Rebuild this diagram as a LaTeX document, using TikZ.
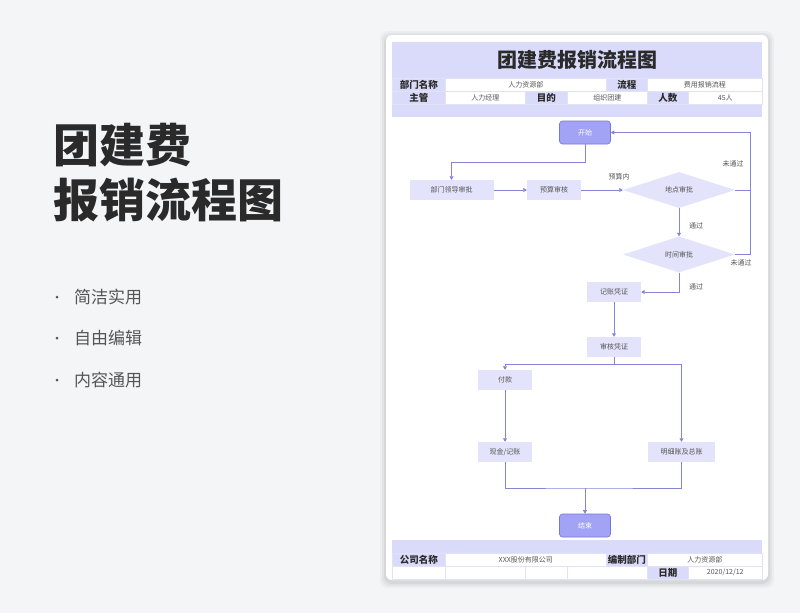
\documentclass[tikz,border=0pt]{standalone}
\usepackage{fontspec}
\setmainfont{Noto Sans CJK SC}
\usetikzlibrary{arrows.meta,shapes.geometric}
\definecolor{bgc}{HTML}{F4F5F7}
\definecolor{headc}{HTML}{DADAFA}
\definecolor{gridc}{HTML}{E2E2F6}
\definecolor{procc}{HTML}{E3E3FB}
\definecolor{termc}{HTML}{A3A3F6}
\definecolor{termd}{HTML}{7676DC}
\definecolor{linec}{HTML}{8585D8}
\definecolor{txtc}{HTML}{555555}
\definecolor{darkc}{HTML}{2A2A2A}
\tikzset{
  tcell/.style={draw=gridc, line width=0.5pt, fill=white, inner sep=0pt, anchor=north west, minimum height=13pt, text=txtc, font=\fontsize{7}{8}\selectfont},
  tlab/.style={tcell, fill=headc, text=darkc, font=\bfseries\fontsize{9.5}{10}\selectfont},
  proc/.style={fill=procc, draw=none, minimum height=20pt, inner sep=0pt, text=txtc, font=\fontsize{7}{8}\selectfont},
  term/.style={fill=termc, draw=termd, line width=0.6pt, rounded corners=3pt, minimum width=51pt, minimum height=23pt, inner sep=0pt, text=white, font=\fontsize{7}{8}\selectfont},
  dec/.style={diamond, aspect=3, fill=procc, draw=none, minimum width=112pt, minimum height=36pt, inner sep=0pt, text=txtc, font=\fontsize{7}{8}\selectfont},
  conn/.style={draw=linec, line width=0.7pt},
  flow/.style={conn, -{Triangle[width=4pt,length=3.5pt]}},
  elab/.style={text=txtc, font=\fontsize{7}{8}\selectfont, inner sep=0pt},
}
\begin{document}
\begin{tikzpicture}[x=1pt,y=-1pt]
\useasboundingbox (0,0) rectangle (800,613);
\fill[bgc] (0,0) rectangle (800,613);
% card shadow
\foreach \d/\o in {6/0.03,4/0.04,2/0.05}{
  \fill[black,opacity=\o,rounded corners=8pt] (386-\d,35-\d+2) rectangle (768+\d,580+\d+2);
}
\fill[white,rounded corners=6pt] (386,35) rectangle (768,580);

% left text
\node[anchor=west, inner sep=0pt, text=darkc, font=\bfseries\fontsize{46}{50}\selectfont] (t1) at (53,145) {团建费};
\node[anchor=west, inner sep=0pt, text=darkc, font=\bfseries\fontsize{46}{50}\selectfont] (t2) at (53,200) {报销流程图};
\foreach \yy/\tt [count=\i] in {297/简洁实用,338/自由编辑,380/内容通用}{
  \fill[txtc] (57,\yy) circle (1.5pt);
  \node[anchor=west, inner sep=0pt, text=txtc, font=\fontsize{17}{20}\selectfont] (b\i) at (74,\yy) {\tt};
}

% header
\fill[headc] (392,42) rectangle (762,117);
\node[text=darkc, font=\bfseries\fontsize{20}{22}\selectfont] (title) at (577,60) {团建费报销流程图};
\node[tlab, minimum width=53pt] (h11) at (392,78) {部门名称};
\node[tcell, minimum width=161pt] (h12) at (445,78) {人力资源部};
\node[tlab, minimum width=41pt] (h13) at (606,78) {流程};
\node[tcell, minimum width=115pt] (h14) at (647,78) {费用报销流程};
\node[tlab, minimum width=53pt] (h21) at (392,91) {主管};
\node[tcell, minimum width=80pt] (h22) at (445,91) {人力经理};
\node[tlab, minimum width=42pt] (h23) at (525,91) {目的};
\node[tcell, minimum width=80pt] (h24) at (567,91) {组织团建};
\node[tlab, minimum width=41pt] (h25) at (647,91) {人数};
\node[tcell, minimum width=74pt] (h26) at (688,91) {45人};

% footer
\fill[headc] (392,540) rectangle (762,553);
\node[tlab, minimum width=53pt] (f11) at (392,553) {公司名称};
\node[tcell, minimum width=161pt] (f12) at (445,553) {XXX股份有限公司};
\node[tlab, minimum width=41pt] (f13) at (606,553) {编制部门};
\node[tcell, minimum width=115pt] (f14) at (647,553) {人力资源部};
\node[tcell, minimum width=53pt] (f21) at (392,566) {};
\node[tcell, minimum width=80pt] (f22) at (445,566) {};
\node[tcell, minimum width=42pt] (f23) at (525,566) {};
\node[tcell, minimum width=80pt] (f24) at (567,566) {};
\node[tlab, minimum width=41pt] (f25) at (647,566) {日期};
\node[tcell, minimum width=74pt] (f26) at (688,566) {2020/12/12};

% flow nodes
\node[term] (start) at (585,132.5) {开始};
\node[proc, minimum width=84pt] (p1) at (451.5,190) {部门领导审批};
\node[proc, minimum width=54pt] (p2) at (554,190) {预算审核};
\node[dec] (d1) at (679,190) {地点审批};
\node[dec] (d2) at (679,254.5) {时间审批};
\node[proc, minimum width=54pt] (p3) at (614,292) {记账凭证};
\node[proc, minimum width=54pt] (p4) at (614,347) {审核凭证};
\node[proc, minimum width=54pt] (p5) at (505,380) {付款};
\node[proc, minimum width=54pt] (p6) at (505,452) {现金/记账};
\node[proc, minimum width=67pt] (p7) at (681.5,452) {明细账及总账};
\node[term] (end) at (585,525.5) {结束};

\coordinate (rt) at (750,190);
\coordinate (split) at (614,364);
\coordinate (join) at (585,488);

\draw[flow] (start.south) -- ++(0,18) -| (p1.north);
\draw[flow] (p1.east) -- (p2.west);
\draw[flow] (p2.east) -- (d1.west);
\draw[flow] (d1.east) -- (rt) |- (start.east);
\draw[conn] (d2.east) -| (rt);
\draw[flow] (d1.south) -- (d2.north);
\draw[flow] (d2.south) |- (p3.east);
\draw[flow] (p3.south) -- (p4.north);
\draw[conn] (p4.south) -- (split);
\draw[flow] (split) -| (p5.north);
\draw[flow] (split) -| (p7.north);
\draw[flow] (p5.south) -- (p6.north);
\draw[conn] (p6.south) |- (join) -| (p7.south);
\draw[flow] (join) -- (end.north);

\node[elab] (l1) at (619,177) {预算内};
\node[elab] (l2) at (733,164) {未通过};
\node[elab] (l3) at (696,226) {通过};
\node[elab] (l4) at (741,263) {未通过};
\node[elab] (l5) at (696,287) {通过};
\end{tikzpicture}
\end{document}
